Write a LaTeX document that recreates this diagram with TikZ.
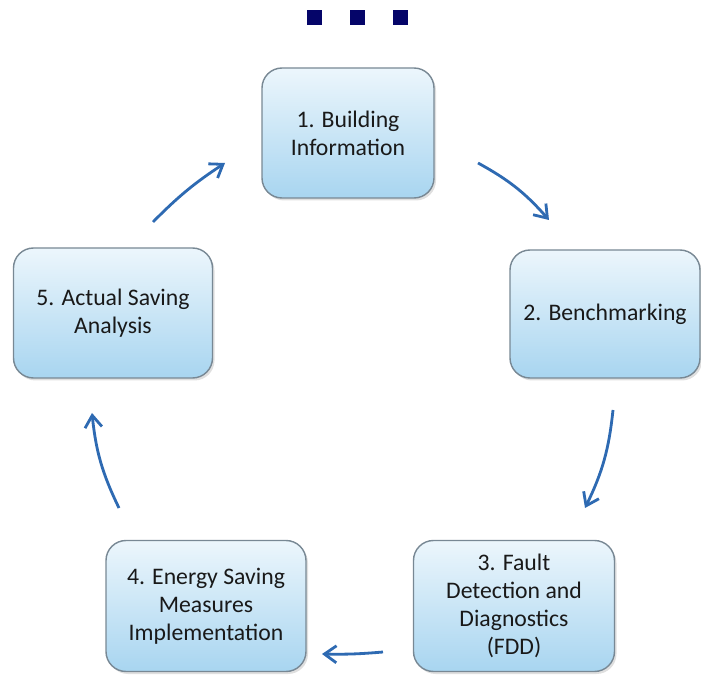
\documentclass[tikz,border=0pt]{standalone}
\usepackage{fontspec}
\setmainfont{Carlito}
\usepackage{tikz}
\usetikzlibrary{arrows.meta, positioning, calc, shadows}

\definecolor{boxtop}{RGB}{236,246,252}
\definecolor{boxbot}{RGB}{168,213,240}
\definecolor{boxline}{RGB}{120,136,148}
\definecolor{arrowblue}{RGB}{46,106,178}
\definecolor{dotnavy}{RGB}{5,5,105}

\begin{document}
\begin{tikzpicture}[
    stage/.style={draw=boxline, thick, rounded corners=0.4cm, top color=boxtop, bottom color=boxbot,
        align=center, text=black!90, font=\fontsize{13.5}{16}\selectfont,
        drop shadow={opacity=0.25, shadow xshift=0.04cm, shadow yshift=-0.05cm}},
    flow/.style={arrowblue, line width=1.6pt, -{Straight Barb[length=2.4mm, width=3.4mm]}},
    dot/.style={fill=dotnavy, minimum size=0.3cm, inner sep=0pt}
]
\useasboundingbox (0,0) rectangle (14.02,13.5);

% Three dots at top
\node[dot] (d1) at (6.28,13.14) {};
\node[dot] (d2) at (7.14,13.14) {};
\node[dot] (d3) at (8.00,13.14) {};

% Stages of the cycle
\node[stage, minimum width=3.44cm, minimum height=2.6cm] (info) at (6.96,10.84) {1. Building\\Information};
\node[stage, minimum width=3.8cm, minimum height=2.56cm] (bench) at (12.10,7.22) {2. Benchmarking};
\node[stage, minimum width=4.02cm, minimum height=2.62cm] (fdd) at (10.28,1.38) {3. Fault\\Detection and\\Diagnostics\\(FDD)};
\node[stage, minimum width=4.0cm, minimum height=2.62cm] (esm) at (4.12,1.38) {4. Energy Saving\\Measures\\Implementation};
\node[stage, minimum width=3.98cm, minimum height=2.6cm] (saving) at (2.26,7.24) {5. Actual Saving\\Analysis};

% Arrow ends
\coordinate (infoout) at (9.56,10.24);
\coordinate (benchin) at (10.98,9.10);
\coordinate (benchout) at (12.26,5.30);
\coordinate (fddin) at (11.70,3.34);
\coordinate (fddout) at (7.66,0.46);
\coordinate (esmin) at (6.44,0.42);
\coordinate (esmout) at (2.38,3.34);
\coordinate (savingin) at (1.84,5.24);
\coordinate (savingout) at (3.06,9.06);
\coordinate (infoin) at (4.50,10.24);

% Arrows around the cycle
\draw[flow] (infoout) to[bend left=10] (benchin);
\draw[flow] (benchout) to[bend left=10] (fddin);
\draw[flow] (fddout) to[bend left=3] (esmin);
\draw[flow] (esmout) to[bend left=10] (savingin);
\draw[flow] (savingout) to[bend left=6] (infoin);
\end{tikzpicture}
\end{document}
